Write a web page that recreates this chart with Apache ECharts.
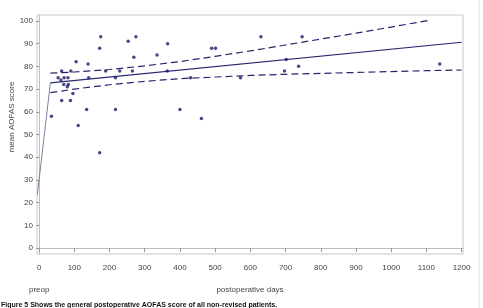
<!DOCTYPE html>
<html><head><meta charset="utf-8">
<script src="https://cdn.jsdelivr.net/npm/echarts@6/dist/echarts.min.js"></script>
<style>html,body{margin:0;padding:0;background:#fff}#c{width:483px;height:308px}</style>
</head><body><div id="c"></div>
<script>
// observed scores: [postoperative day, mean AOFAS score]
const points = [[54,75],[62,74],[71,75],[82,75],[70,72],[80,71],[83,72],[96,68],[64,78],[90,78],[64,65],[89,65],[35,58],[105,82],[139,81],[111,54],[135,61],[141,75],[172,88],[175,93],[172,42],[189,78],[217,75],[217,61],[229,78],[253,91],[275,93],[269,84],[265,78],[335,85],[365,90],[364,78],[400,61],[430,75],[461,57],[490,88],[501,88],[572,75],[630,93],[702,83],[697,78],[737,80],[747,93],[1138,81]];
const preopLine = [[-5,23.5],[32,72.7]];
const fitLine = [[32,72.7],[1200,90.6]];
const upperBand = [[32,77.0],[100,77.5],[200,78.6],[300,80.2],[400,82.1],[500,84.4],[600,86.8],[700,89.4],[800,92.0],[900,94.6],[1000,97.3],[1110,100.3]];
const lowerBand = [[32,68.4],[100,70.0],[200,71.9],[300,73.4],[400,74.6],[500,75.3],[600,76.0],[700,76.5],[800,76.9],[900,77.3],[1000,77.7],[1100,78.1],[1200,78.4]];
const xTicks = [0,100,200,300,400,500,600,700,800,900,1000,1100,1200];
const yTicks = [0,10,20,30,40,50,60,70,80,90,100];
const yTitle = 'mean AOFAS score';
const xTitle = 'postoperative days';
const preopLabel = 'preop';
const caption = 'Figure 5 Shows the general postoperative AOFAS score of all non-revised patients.';

const navy = '#25256f';
const font = 'Liberation Sans, Arial, sans-serif';
const chart = echarts.init(document.getElementById('c'), null, {renderer:'canvas'});
chart.setOption({
  animation:false,
  backgroundColor:'#fff',
  grid:{left:37,right:20,top:15,bottom:54,show:true,borderColor:'#c8c8c8',borderWidth:1},
  xAxis:{type:'value',min:-6,max:1204,
    axisLine:{show:true,lineStyle:{color:'#bdbdbd'}},
    axisTick:{show:true,length:4,customValues:xTicks,lineStyle:{color:'#9a9a9a'}},
    axisLabel:{customValues:xTicks,formatter:v=>String(v),fontSize:8,color:'#444',margin:10,fontFamily:font},
    splitLine:{show:false}},
  yAxis:{type:'value',min:-2.6,max:102.6,
    axisLine:{show:true,lineStyle:{color:'#bdbdbd'}},
    axisTick:{show:true,length:3,customValues:yTicks,lineStyle:{color:'#9a9a9a'}},
    axisLabel:{customValues:yTicks,formatter:v=>String(v),fontSize:8,color:'#444',margin:4,fontFamily:font},
    splitLine:{show:false}},
  series:[
    {type:'line',data:preopLine,symbol:'none',lineStyle:{color:'#8080a0',width:1},silent:true},
    {type:'line',data:fitLine,symbol:'none',lineStyle:{color:navy,width:1.2},silent:true},
    {type:'line',data:upperBand,symbol:'none',lineStyle:{color:navy,width:1.2,type:[7,4]},silent:true},
    {type:'line',data:lowerBand,symbol:'none',lineStyle:{color:navy,width:1.2,type:[7,4]},silent:true},
    {type:'scatter',data:points,symbol:'circle',symbolSize:3.5,itemStyle:{color:'#1a1a66'},z:5,silent:true}
  ],
  graphic:[
    {type:'text',x:12,y:117,rotation:Math.PI/2,style:{text:yTitle,fontSize:8,fill:'#444',fontFamily:font,align:'center',verticalAlign:'middle'}},
    {type:'text',x:29,y:290,style:{text:preopLabel,fontSize:8,fill:'#444',fontFamily:font,align:'left',verticalAlign:'middle'}},
    {type:'text',x:250,y:290,style:{text:xTitle,fontSize:8,fill:'#444',fontFamily:font,align:'center',verticalAlign:'middle'}},
    {type:'text',x:1,y:302,style:{text:caption,fontSize:7,fontWeight:'bold',fill:'#111',fontFamily:font,align:'left',verticalAlign:'top'}},
    {type:'line',shape:{x1:479,y1:0,x2:479,y2:308},style:{stroke:'#e0e0e0',lineWidth:1}}
  ]
});
</script></body></html>
